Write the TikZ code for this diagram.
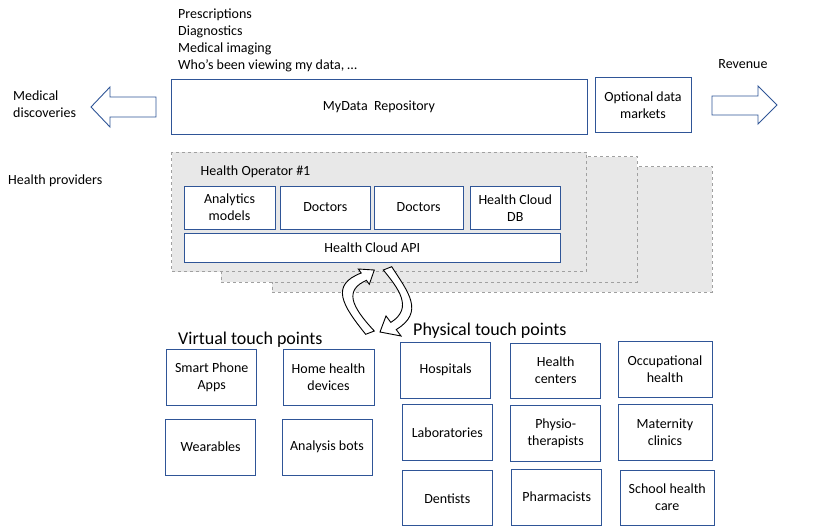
\documentclass[tikz,border=0pt]{standalone}
\usepackage{fontspec}
\setmainfont{Carlito}
\definecolor{boxblue}{HTML}{2F5597}
\definecolor{layerfill}{HTML}{E8E8E8}
\definecolor{layerline}{HTML}{A0A0A0}

\begin{document}
\begin{tikzpicture}[x=1pt,y=-1pt,font=\fontsize{14}{17}\selectfont]
        \tikzstyle{every node}=[inner sep=0pt, align=center]
        \tikzstyle{box}=[draw=boxblue, fill=white, line width=0.9pt, minimum width=90, minimum height=56]
        \tikzstyle{layer}=[draw=layerline, dashed, fill=layerfill, line width=0.8pt]
        \tikzstyle{flatarrow}=[draw=boxblue, fill=white, line width=0.9pt]
        \tikzstyle{turnarrow}=[draw=black, fill=white, line width=0.9pt, line join=miter]
        \tikzstyle{heading}=[anchor=base west, font=\fontsize{18}{22}\selectfont]
        \useasboundingbox (0,0) rectangle (822,527);
        % top: repository and markets
        \node[anchor=north west, align=left] (records) at (178,9) {Prescriptions\\Diagnostics\\Medical imaging\\Who’s been viewing my data, \dots};
        \node[box, minimum width=416, minimum height=55] (repo) at (379,106.5) {MyData~~Repository};
        \node[box, minimum width=96, minimum height=55] (markets) at (643,105) {Optional data\\markets};
        \node[anchor=north west, align=left] (discoveries) at (13,91) {Medical\\discoveries};
        \node[anchor=base] (revenue) at (743,69) {Revenue};
        \draw[flatarrow] (91,107) -- (110,87) -- (110,97) -- (156,97) -- (156,117) -- (110,117) -- (110,127) -- cycle;
        \draw[flatarrow] (777,105) -- (758,86) -- (758,96) -- (712,96) -- (712,115) -- (758,115) -- (758,124) -- cycle;
        % health operators
        \node[anchor=base west] (providers) at (8,184) {Health providers};
        \draw[layer] (272,166.7) rectangle (712.3,292.3);
        \draw[layer] (221,156.7) rectangle (637.3,282.3);
        \draw[layer] (171.7,152.3) rectangle (586.7,271.7);
        \node[anchor=base west] (operator) at (200.5,175.5) {Health Operator \#1};
        \node[box, minimum width=91, minimum height=43] (analytics) at (229.5,207.5) {Analytics\\models};
        \node[box, minimum width=90.7, minimum height=43] (doctorsa) at (325.3,207.5) {Doctors};
        \node[box, minimum width=89.3, minimum height=43] (doctorsb) at (418.7,207.5) {Doctors};
        \node[box, minimum width=90.7, minimum height=42.3] (clouddb) at (515.3,207.8) {Health Cloud\\DB};
        \node[box, minimum width=376.7, minimum height=29] (api) at (372.3,247.8) {Health Cloud API};
        % turning arrows
        \draw[turnarrow] (374.3,331) -- (365.7,334.3) .. controls (342,305) and (330,285) .. (361.2,273)
                -- (358.3,269) -- (374.3,270) -- (369.3,284.3) -- (366.4,280.3)
                .. controls (345,290) and (350,305) .. (374.3,331) -- cycle;
        \draw[turnarrow] (383.3,270) -- (391.7,266.7) .. controls (408,292) and (425,312) .. (396.2,329.6)
                -- (401,336) -- (380,332) -- (386,316) -- (390.8,322.4)
                .. controls (414,308) and (398,288) .. (383.3,270) -- cycle;
        % virtual touch points
        \node[heading] (virtual) at (178,344) {Virtual touch points};
        \node[box] (apps) at (211.7,377) {Smart Phone\\Apps};
        \node[box, minimum width=91] (home) at (328.5,377) {Home health\\devices};
        \node[box] (wearables) at (210.7,447) {Wearables};
        \node[box] (bots) at (327,447) {Analysis bots};
        % physical touch points
        \node[heading] (physical) at (413,335) {Physical touch points};
        \node[box] (hospitals) at (445.7,370) {Hospitals};
        \node[box, minimum height=55] (centers) at (555.7,370.5) {Health\\centers};
        \node[box, minimum width=94] (occupational) at (665,369) {Occupational\\health};
        \node[box, minimum width=90.7] (labs) at (447.3,432.8) {Laboratories};
        \node[box] (physio) at (555.7,433) {Physio-\\therapists};
        \node[box, minimum width=94] (maternity) at (665,432) {Maternity\\clinics};
        \node[box, minimum width=90.7, minimum height=55] (dentists) at (447.3,498.3) {Dentists};
        \node[box] (pharmacists) at (556.8,497) {Pharmacists};
        \node[box, minimum width=93.3, minimum height=55] (school) at (667.3,497.5) {School health\\care};
\end{tikzpicture}
\end{document}
